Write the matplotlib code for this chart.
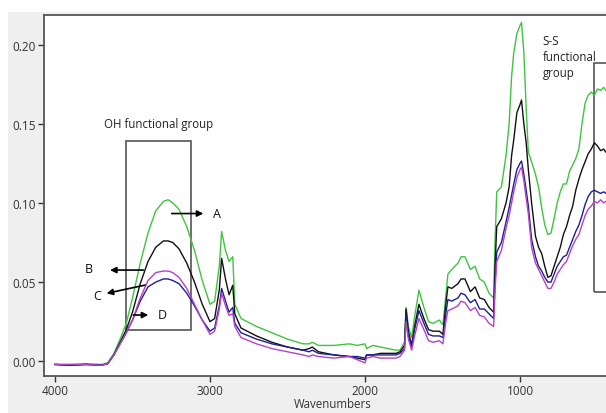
import numpy as np
import matplotlib
matplotlib.use("Agg")
import matplotlib.pyplot as plt
from matplotlib.patches import Rectangle

# FTIR spectra (absorbance vs wavenumber, cm-1)
wavenumber = [4000, 3900, 3800, 3700, 3660, 3620, 3580, 3540, 3500, 3450,
              3400, 3350, 3300, 3270, 3240, 3200, 3150, 3100, 3050, 3000,
              2970, 2940, 2925, 2900, 2877, 2853, 2840, 2800, 2700, 2600,
              2500, 2400, 2360, 2340, 2300, 2200, 2100, 2050, 2000, 1990,
              1950, 1900, 1850, 1800, 1774, 1745, 1735, 1720, 1699, 1680,
              1652, 1620, 1590, 1561, 1520, 1497, 1480, 1465, 1440, 1400,
              1380, 1355, 1320, 1290, 1260, 1230, 1200, 1170, 1161, 1150,
              1120, 1090, 1070, 1054, 1040, 1020, 1000, 990, 975, 960,
              946, 925, 900, 880, 860, 840, 820, 800, 780, 760,
              740, 720, 700, 680, 660, 640, 620, 600, 580, 560,
              540, 520, 500, 480, 460, 445]

spec_A = [-0.002, -0.002, -0.0015, -0.002, -0.001, 0.005, 0.014, 0.024, 0.040, 0.062,
          0.081, 0.095, 0.101, 0.102, 0.100, 0.096, 0.085, 0.070, 0.051, 0.036,
          0.038, 0.060, 0.082, 0.070, 0.063, 0.066, 0.036, 0.027, 0.022, 0.018,
          0.014, 0.011, 0.011, 0.012, 0.010, 0.010, 0.011, 0.010, 0.011, 0.008,
          0.010, 0.009, 0.008, 0.007, 0.007, 0.012, 0.034, 0.022, 0.015, 0.028,
          0.045, 0.034, 0.025, 0.024, 0.026, 0.023, 0.040, 0.055, 0.058, 0.062,
          0.066, 0.066, 0.058, 0.060, 0.052, 0.050, 0.043, 0.040, 0.075, 0.107,
          0.110, 0.130, 0.150, 0.180, 0.195, 0.207, 0.212, 0.214, 0.195, 0.160,
          0.132, 0.126, 0.118, 0.110, 0.097, 0.086, 0.080, 0.081, 0.090, 0.100,
          0.107, 0.112, 0.112, 0.120, 0.124, 0.128, 0.134, 0.150, 0.163, 0.168,
          0.170, 0.168, 0.172, 0.171, 0.173, 0.171]

spec_B = [-0.002, -0.0025, -0.002, -0.0025, -0.0015, 0.004, 0.012, 0.020, 0.031, 0.049,
          0.063, 0.072, 0.076, 0.076, 0.075, 0.071, 0.062, 0.050, 0.036, 0.025,
          0.027, 0.045, 0.065, 0.052, 0.042, 0.048, 0.030, 0.021, 0.016, 0.012,
          0.009, 0.007, 0.008, 0.009, 0.006, 0.004, 0.003, 0.002, 0.001, 0.004,
          0.004, 0.005, 0.005, 0.005, 0.006, 0.010, 0.033, 0.019, 0.010, 0.022,
          0.036, 0.027, 0.020, 0.019, 0.019, 0.017, 0.035, 0.047, 0.046, 0.049,
          0.052, 0.052, 0.044, 0.047, 0.040, 0.039, 0.034, 0.031, 0.060, 0.085,
          0.090, 0.100, 0.110, 0.130, 0.140, 0.157, 0.162, 0.165, 0.150, 0.138,
          0.121, 0.100, 0.079, 0.072, 0.068, 0.060, 0.053, 0.054, 0.060, 0.066,
          0.072, 0.080, 0.085, 0.092, 0.098, 0.108, 0.115, 0.121, 0.126, 0.131,
          0.134, 0.138, 0.136, 0.133, 0.134, 0.132]

spec_C = [-0.002, -0.002, -0.002, -0.0025, -0.0015, 0.004, 0.011, 0.018, 0.026, 0.040,
          0.051, 0.056, 0.057, 0.057, 0.056, 0.053, 0.046, 0.036, 0.026, 0.017,
          0.019, 0.033, 0.043, 0.035, 0.029, 0.030, 0.022, 0.015, 0.011, 0.008,
          0.006, 0.004, 0.003, 0.004, 0.003, 0.002, 0.003, 0.001, -0.001, 0.002,
          0.003, 0.002, 0.002, 0.002, 0.003, 0.007, 0.025, 0.014, 0.007, 0.016,
          0.027, 0.020, 0.013, 0.012, 0.013, 0.011, 0.024, 0.032, 0.033, 0.035,
          0.038, 0.037, 0.032, 0.034, 0.029, 0.028, 0.024, 0.022, 0.045, 0.063,
          0.070, 0.084, 0.092, 0.100, 0.107, 0.116, 0.121, 0.1225, 0.114, 0.103,
          0.093, 0.072, 0.062, 0.058, 0.054, 0.050, 0.046, 0.046, 0.050, 0.055,
          0.058, 0.061, 0.063, 0.068, 0.073, 0.077, 0.080, 0.086, 0.092, 0.096,
          0.098, 0.101, 0.100, 0.102, 0.100, 0.101]

spec_D = [-0.002, -0.0025, -0.002, -0.0025, -0.0015, 0.004, 0.011, 0.018, 0.026, 0.038,
          0.047, 0.050, 0.052, 0.052, 0.051, 0.049, 0.043, 0.035, 0.026, 0.019,
          0.021, 0.035, 0.046, 0.038, 0.031, 0.034, 0.024, 0.018, 0.014, 0.011,
          0.009, 0.007, 0.006, 0.007, 0.005, 0.004, 0.003, 0.003, 0.002, 0.004,
          0.004, 0.004, 0.004, 0.004, 0.005, 0.008, 0.029, 0.016, 0.009, 0.020,
          0.032, 0.024, 0.017, 0.016, 0.016, 0.015, 0.029, 0.039, 0.038, 0.040,
          0.043, 0.042, 0.037, 0.039, 0.033, 0.033, 0.030, 0.027, 0.050, 0.069,
          0.075, 0.088, 0.097, 0.105, 0.112, 0.121, 0.125, 0.1265, 0.118, 0.108,
          0.098, 0.077, 0.066, 0.060, 0.057, 0.053, 0.050, 0.050, 0.055, 0.060,
          0.063, 0.066, 0.067, 0.072, 0.077, 0.082, 0.086, 0.092, 0.099, 0.104,
          0.107, 0.108, 0.107, 0.106, 0.107, 0.106]

plt.rcParams['font.family'] = ['Open Sans', 'DejaVu Sans']

fig = plt.figure(figsize=(6.06, 4.14), dpi=100)
fig.patch.set_facecolor('white')
# light grey panel behind the plot (window background in the screenshot)
fig.patches.append(Rectangle((8 / 606, 0), 1, 1 - 13 / 414, transform=fig.transFigure,
                             facecolor='#efefef', edgecolor='none', zorder=-5))

ax = fig.add_axes([44 / 606, 1 - 377 / 414, 1 - 44 / 606, (377 - 15.5) / 414])
ax.set_facecolor('white')

ax.plot(wavenumber, spec_A, color='#3fc43f', lw=1.0)
ax.plot(wavenumber, spec_B, color='#111111', lw=1.0)
ax.plot(wavenumber, spec_D, color='#1e1e96', lw=1.0)
ax.plot(wavenumber, spec_C, color='#b442c8', lw=1.0)

ax.set_xlim(4071, 445)
ax.set_ylim(-0.0093, 0.219)
ax.set_xticks([4000, 3000, 2000, 1000])
ax.set_yticks([0.00, 0.05, 0.10, 0.15, 0.20])
ax.set_yticklabels(['0.00', '0.05', '0.10', '0.15', '0.20'])
ax.tick_params(labelsize=8.5, colors='#333333', length=4, width=1, pad=2)
ax.set_xlabel('Wavenumbers', fontsize=8.3, color='#333333')
ax.xaxis.set_label_coords((333 - 44) / (606 - 44), -0.058)

for s in ['left', 'bottom', 'top']:
    ax.spines[s].set_color('#555555')
    ax.spines[s].set_linewidth(1.3)
ax.spines['right'].set_visible(False)

# functional group boxes
ax.add_patch(Rectangle((3544, 0.0197), 3124.5 - 3544, 0.1393 - 0.0197,
                       fill=False, edgecolor='#555555', lw=1.2))
ax.add_patch(Rectangle((520, 0.0435), 300 - 520, 0.1885 - 0.0435,
                       fill=False, edgecolor='#555555', lw=1.2, clip_on=True))
ax.text(3334, 0.150, 'OH functional group', fontsize=8.3, ha='center', va='center', color='#222222')
ax.text(854, 0.2065, 'S-S\nfunctional\ngroup', fontsize=8.3, ha='left', va='top',
        color='#222222', linespacing=1.3)

# sample arrows
arrow = dict(arrowstyle='-|>', color='black', lw=1.2, mutation_scale=9, shrinkA=0, shrinkB=0)
ax.annotate('', xy=(3043, 0.0933), xytext=(3247, 0.0933), arrowprops=arrow)
ax.annotate('', xy=(3645, 0.0576), xytext=(3430, 0.0576), arrowprops=arrow)
ax.annotate('', xy=(3667, 0.0429), xytext=(3419, 0.0481), arrowprops=arrow)
ax.annotate('', xy=(3398, 0.0292), xytext=(3495, 0.0292), arrowprops=arrow)
for lab, x, y in [('A', 2957, 0.0933), ('B', 3785, 0.0586), ('C', 3731, 0.0414), ('D', 3308, 0.0298)]:
    ax.text(x, y, lab, fontsize=9, ha='center', va='center', color='#111111')

fig.savefig('out.png', dpi=100, facecolor=fig.get_facecolor())
